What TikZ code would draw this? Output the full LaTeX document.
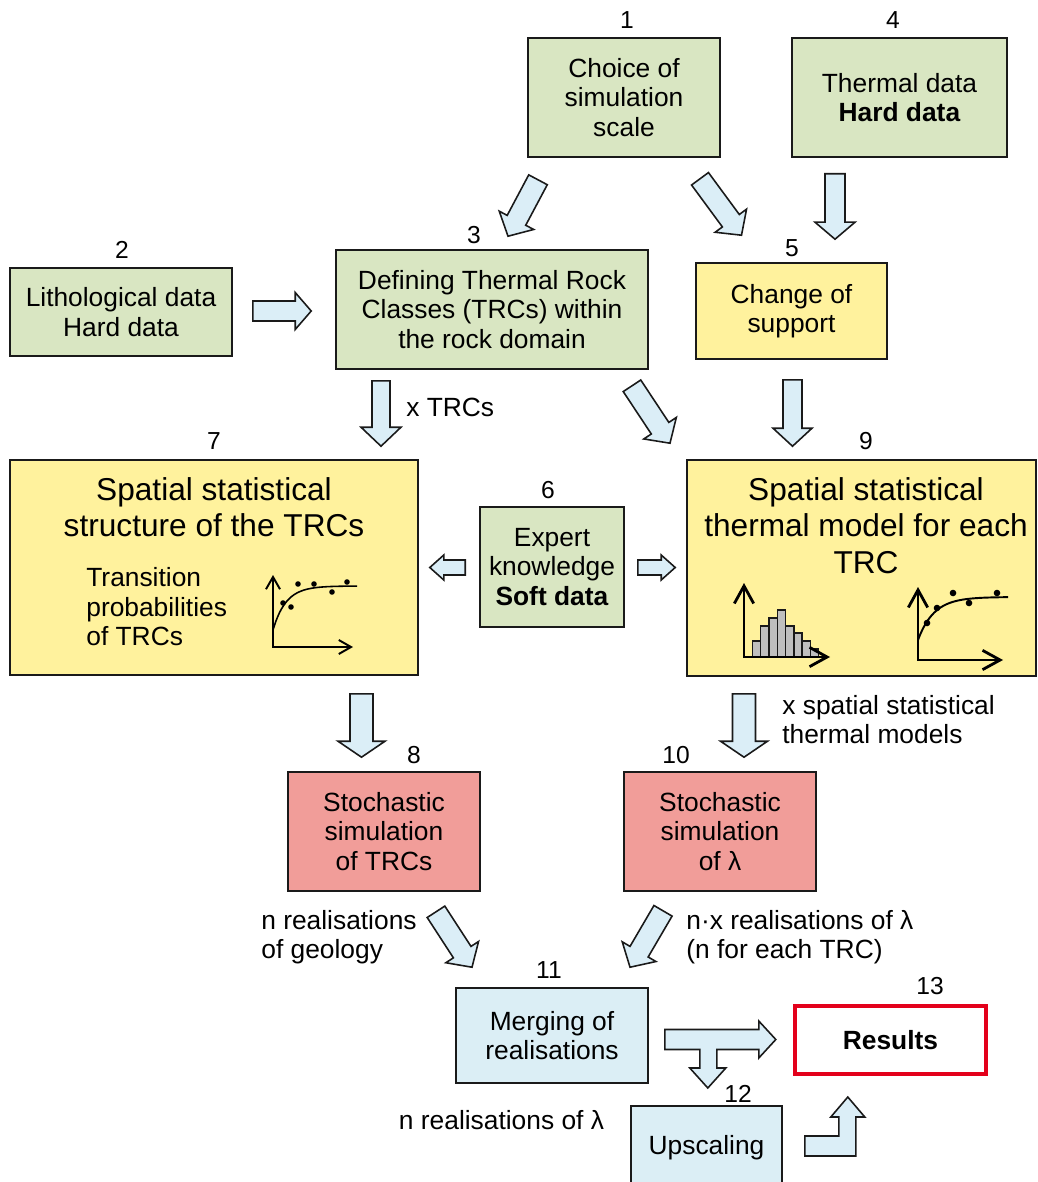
\documentclass[tikz,border=0pt]{standalone}
\usepackage{fontspec}
\setmainfont{Liberation Sans}
\usepackage{tikz}
\usetikzlibrary{arrows.meta, positioning, calc}
\definecolor{boxdark}{HTML}{1A1A1A}
\definecolor{flowgreen}{HTML}{D9E6C2}
\definecolor{flowyellow}{HTML}{FFF29D}
\definecolor{flowred}{HTML}{F19D99}
\definecolor{flowblue}{HTML}{DBEEF5}
\definecolor{arrowblue}{HTML}{DBEEF7}
\definecolor{resultred}{HTML}{E3001B}
\definecolor{bargray}{HTML}{BFBFBF}
\newcommand{\px}{0.02cm}
\tikzset{
  box/.style={draw=boxdark, line width=0.9pt, align=center, inner sep=0pt,
              font=\fontsize{15}{16.8}\selectfont},
  greenbox/.style={box, fill=flowgreen},
  yellowbox/.style={box, fill=flowyellow},
  redbox/.style={box, fill=flowred},
  bluebox/.style={box, fill=flowblue},
  resultbox/.style={box, draw=resultred, line width=2.3pt, fill=white},
  numlbl/.style={font=\fontsize{14}{14}\selectfont, inner sep=0pt},
  lbl/.style={font=\fontsize{15}{16.8}\selectfont, inner sep=0pt, align=left},
  titlelbl/.style={font=\fontsize{18}{20.7}\selectfont, inner sep=0pt, align=center},
  fatflow/.style={draw=boxdark, line width=0.9pt, fill=arrowblue, line join=miter},
  smallaxes/.style={{Straight Barb[length=7pt, width=8pt]}-{Straight Barb[length=7pt, width=8pt]},
                    line width=1.1pt},
  bigaxes/.style={{Straight Barb[length=10pt, width=11pt]}-{Straight Barb[length=10pt, width=11pt]},
                  line width=1.6pt},
  histbar/.style={draw=boxdark, line width=0.8pt, fill=bargray},
}
% block arrow: from, to, half shaft, half head, head length (in px)
\newcommand{\flowarrow}[5]{%
  \pgfmathsetlengthmacro{\fsw}{#3*\px}%
  \pgfmathsetlengthmacro{\fhw}{#4*\px}%
  \pgfmathsetlengthmacro{\fhl}{#5*\px}%
  \coordinate (fa-a) at (#1);%
  \coordinate (fa-b) at (#2);%
  \coordinate (fa-c) at ($(fa-b)!\fhl!(fa-a)$);%
  \draw[fatflow] ($(fa-a)!\fsw!90:(fa-b)$) -- ($(fa-c)!\fsw!90:(fa-b)$)
    -- ($(fa-c)!\fhw!90:(fa-b)$) -- (fa-b) -- ($(fa-c)!\fhw!-90:(fa-b)$)
    -- ($(fa-c)!\fsw!-90:(fa-b)$) -- ($(fa-a)!\fsw!-90:(fa-b)$) -- cycle;}

\begin{document}
\begin{tikzpicture}[x=\px, y=-\px]
  \useasboundingbox (0,0) rectangle (1037,1182);

  % boxes
  \node[greenbox, minimum width=192*\px, minimum height=119*\px] (scale) at (624,97.5)
    {Choice of\\ simulation\\ scale};
  \node[greenbox, minimum width=215*\px, minimum height=119*\px] (thermal) at (899.5,97.5)
    {Thermal data\\ \textbf{Hard data}};
  \node[greenbox, minimum width=222*\px, minimum height=88*\px] (lith) at (121,312)
    {Lithological data\\ Hard data};
  \node[greenbox, minimum width=312*\px, minimum height=119*\px] (trc) at (492,309.5)
    {Defining Thermal Rock\\ Classes (TRCs) within\\ the rock domain};
  \node[yellowbox, minimum width=191*\px, minimum height=96*\px] (support) at (791.5,311)
    {Change of\\ support};
  \node[yellowbox, minimum width=408*\px, minimum height=215*\px] (structure) at (214,567.5) {};
  \node[greenbox, minimum width=144*\px, minimum height=120*\px] (expert) at (552,567)
    {Expert\\ knowledge\\ \textbf{Soft data}};
  \node[yellowbox, minimum width=349*\px, minimum height=216*\px] (thermo) at (861.5,568) {};
  \node[redbox, minimum width=192*\px, minimum height=119*\px] (simtrc) at (384,831.5)
    {Stochastic\\ simulation\\ of TRCs};
  \node[redbox, minimum width=192*\px, minimum height=119*\px] (simlam) at (720,831.5)
    {Stochastic\\ simulation\\ of λ};
  \node[bluebox, minimum width=192*\px, minimum height=95*\px] (merge) at (552,1035.5)
    {Merging of\\ realisations};
  \node[resultbox, minimum width=191*\px, minimum height=68*\px] (results) at (890.5,1040)
    {\textbf{Results}};
  \node[bluebox, minimum width=151*\px, minimum height=84*\px] (upscale) at (706.5,1148)
    {Upscaling};

  % texts inside the big boxes
  \node[titlelbl] (structtitle) at (214,507.5) {Spatial statistical\\ structure of the TRCs};
  \node[lbl, anchor=west] (transprob) at (86,607) {Transition\\ probabilities\\ of TRCs};
  \node[titlelbl] (thermotitle) at (866,525.5) {Spatial statistical\\ thermal model for each\\ TRC};

  % numbers
  \node[numlbl] (n1) at (627,20) {1};
  \node[numlbl] (n2) at (122,250) {2};
  \node[numlbl] (n3) at (474,235) {3};
  \node[numlbl] (n4) at (893,20) {4};
  \node[numlbl] (n5) at (792,248) {5};
  \node[numlbl] (n6) at (548,490) {6};
  \node[numlbl] (n7) at (214,441) {7};
  \node[numlbl] (n8) at (414,755) {8};
  \node[numlbl] (n9) at (866,441) {9};
  \node[numlbl] (n10) at (676,755) {10};
  \node[numlbl] (n11) at (549,970) {11};
  \node[numlbl] (n12) at (738,1094) {12};
  \node[numlbl] (n13) at (930,986) {13};

  % arrow labels
  \node[lbl, anchor=west] (ntrcs) at (406,407) {x TRCs};
  \node[lbl, anchor=west] (nmodels) at (782,719.5) {x spatial statistical\\ thermal models};
  \node[lbl, anchor=west] (ngeol) at (261,937) {n realisations\\ of geology};
  \node[lbl, anchor=west] (nlambda) at (686,937) {n·x realisations of λ\\ (n for each TRC)};
  \node[lbl] (nreal) at (501.5,1120) {n realisations of λ};

  % block arrows
  \flowarrow{$(scale.south)+(-86,22)$}{$(trc.north)+(16,-13)$}{10.5}{19.5}{18}
  \flowarrow{$(scale.south)+(76,21)$}{$(support.north)+(-50,-27)$}{10.5}{19.5}{18}
  \flowarrow{$(thermal.south)+(-64.5,16)$}{$(support.north)+(43.5,-23)$}{10}{20}{17}
  \flowarrow{$(lith.east)+(20,-1)$}{$(trc.west)+(-24,1.5)$}{10}{18.5}{16}
  \flowarrow{$(trc.south)+(-111,11)$}{$(structure.north)+(167,-13)$}{9}{20}{19}
  \flowarrow{$(trc.south)+(140,16)$}{$(thermo.north)+(-191.5,-16)$}{10.5}{19.5}{18}
  \flowarrow{$(support.south)+(1,20)$}{$(thermo.north)+(-69,-13)$}{9.5}{19.5}{18}
  \flowarrow{$(expert.west)+(-14,0.5)$}{$(structure.east)+(11,0)$}{7.5}{12.5}{14}
  \flowarrow{$(expert.east)+(13,0.5)$}{$(thermo.west)+(-11,-0.5)$}{7.5}{12.5}{14}
  \flowarrow{$(structure.south)+(147.5,18)$}{$(simtrc.north)+(-22.5,-14)$}{11.5}{23.5}{16}
  \flowarrow{$(thermo.south)+(-117.5,17)$}{$(simlam.north)+(24,-14)$}{11.5}{23.5}{16}
  \flowarrow{$(simtrc.south)+(52,20)$}{$(merge.north)+(-80,-20)$}{10.5}{19.5}{18}
  \flowarrow{$(simlam.south)+(-57,19)$}{$(merge.north)+(78,-20)$}{10.5}{19.5}{18}

  % split arrow towards results and upscaling
  \begin{scope}[shift={(merge.east)}]
    \draw[fatflow] (16,-6) -- (110,-6) -- (110,-14.5) -- (127,4) -- (110,22.5) -- (110,14)
      -- (68,14) -- (68,32.5) -- (77,32.5) -- (59,52.5) -- (41,32.5) -- (51,32.5)
      -- (51,14) -- (16,14) -- cycle;
  \end{scope}
  % bent arrow from upscaling
  \begin{scope}[shift={(upscale.east)}]
    \draw[fatflow] (22,-12) -- (56,-12) -- (56,-31) -- (48,-31) -- (65,-51) -- (82,-31)
      -- (73,-31) -- (73,8) -- (22,8) -- cycle;
  \end{scope}

  % chart in box 7
  \draw[smallaxes] (273,575) -- (273,647) -- (353,647);
  \draw[line width=0.9pt] plot[domain=0:84, samples=40, smooth] ({273+\x},{586+44*exp(-\x/13)});
  \foreach \p in {(283,603),(291,607),(298,584),(314,584),(332,592),(347,582)}
    \fill \p circle[radius=2.8];

  % charts in box 9
  \foreach \h [count=\i from 0] in {641,626,618,610,626,633,641,649}
    \draw[histbar] ({752.3+8.3*\i},657) rectangle ({760.6+8.3*\i},\h);
  \draw[bigaxes] (744,583) -- (744,657) -- (830,657);
  \draw[bigaxes] (918,587) -- (918,660) -- (1003,660);
  \draw[line width=1.1pt] plot[domain=0:90, samples=40, smooth] ({918+\x},{597+43*exp(-\x/16)});
  \foreach \p in {(927,623),(937,608),(953,593),(969,603),(997,593)}
    \fill \p circle[radius=3.3];
\end{tikzpicture}
\end{document}
